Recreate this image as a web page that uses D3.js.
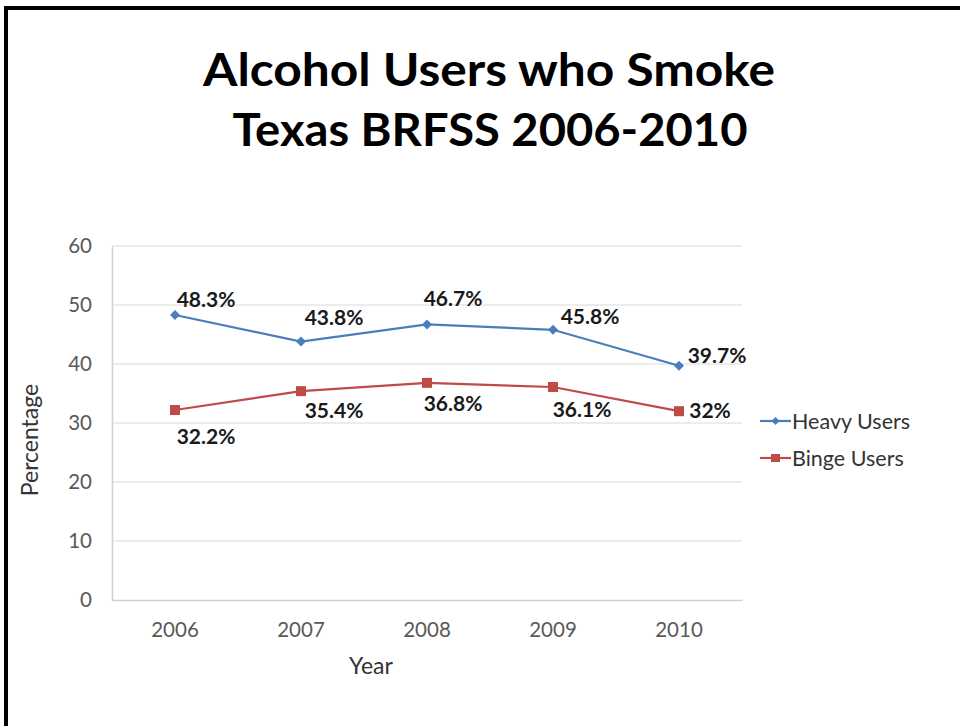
<!DOCTYPE html>
<html>
<head>
<meta charset="utf-8">
<script src="https://cdn.jsdelivr.net/npm/d3@7"></script>
<style>
  html, body { margin: 0; padding: 0; background: #fff; }
  svg { display: block; }
</style>
</head>
<body>
<svg id="chart" width="960" height="726"></svg>
<script>
// Share of alcohol users who smoke, Texas BRFSS
const years = ["2006", "2007", "2008", "2009", "2010"];
const heavyUsers = [48.3, 43.8, 46.7, 45.8, 39.7];
const bingeUsers = [32.2, 35.4, 36.8, 36.1, 32.0];
const heavyLabels = ["48.3%", "43.8%", "46.7%", "45.8%", "39.7%"];
const bingeLabels = ["32.2%", "35.4%", "36.8%", "36.1%", "32%"];
const yTicks = [0, 10, 20, 30, 40, 50, 60];
const seriesNames = ["Heavy Users", "Binge Users"];

// hand-placed label nudges (px, relative to the point)
const heavyLabelShift = [[31, -15], [33, -24], [26, -26], [37, -13], [38, -10]];
const bingeLabelShift = [[31, 27], [33, 20], [26, 21], [29, 23], [31, -1]];

const svg = d3.select("#chart");
const font = "Lato, 'Open Sans', sans-serif";

// frame edges
svg.append("rect").attr("x", 4).attr("y", 6).attr("width", 4).attr("height", 726).attr("fill", "#000");
svg.append("rect").attr("x", 4).attr("y", 6).attr("width", 960).attr("height", 4).attr("fill", "#000");

// title
const title = svg.append("text")
  .attr("text-anchor", "middle")
  .attr("font-family", font)
  .attr("font-weight", 700)
  .attr("font-size", 46)
  .attr("fill", "#000");
title.append("tspan").attr("x", 489).attr("y", 86)
  .attr("textLength", 572).attr("lengthAdjust", "spacingAndGlyphs")
  .text("Alcohol Users who Smoke");
title.append("tspan").attr("x", 490).attr("y", 146)
  .attr("textLength", 515).attr("lengthAdjust", "spacingAndGlyphs")
  .text("Texas BRFSS 2006-2010");

const plot = { left: 112, right: 742, top: 246, bottom: 600 };

const x = d3.scaleBand().domain(years).range([plot.left, plot.right]);
const y = d3.scaleLinear().domain([0, 60]).range([plot.bottom, plot.top]);
const cx = d => x(d) + x.bandwidth() / 2;

// gridlines
svg.append("g").selectAll("line").data(yTicks.filter(t => t > 0)).join("line")
  .attr("x1", plot.left).attr("x2", plot.right)
  .attr("y1", d => y(d)).attr("y2", d => y(d))
  .attr("stroke", "#d9d9d9").attr("stroke-width", 1.2);

// y axis
const yAxis = svg.append("g")
  .attr("transform", `translate(${plot.left},0)`)
  .call(d3.axisLeft(y).tickValues(yTicks).tickSize(0).tickPadding(20));
yAxis.select(".domain").attr("stroke", "#d0d0d0").attr("stroke-width", 1.5);
yAxis.selectAll("text").attr("font-family", font).attr("font-size", 20.5).attr("fill", "#595959");

// x axis
const xAxis = svg.append("g")
  .attr("transform", `translate(0,${plot.bottom})`)
  .call(d3.axisBottom(x).tickSize(0).tickPadding(22));
xAxis.select(".domain").attr("stroke", "#d0d0d0").attr("stroke-width", 1.5);
xAxis.selectAll("text").attr("font-family", font).attr("font-size", 20.5).attr("fill", "#595959");

// axis titles
svg.append("text").attr("x", 371).attr("y", 674).attr("text-anchor", "middle")
  .attr("font-family", font).attr("font-size", 23).attr("fill", "#333")
  .text("Year");
svg.append("text").attr("transform", "translate(38,440) rotate(-90)").attr("text-anchor", "middle")
  .attr("font-family", font).attr("font-size", 23).attr("fill", "#333")
  .text("Percentage");

const line = d3.line().x((d, i) => cx(years[i])).y(d => y(d));
const colors = ["#4a7ebb", "#be4b48"];

function drawSeries(values, color, marker, labels, shifts) {
  const g = svg.append("g");
  g.append("path").datum(values).attr("d", line)
    .attr("fill", "none").attr("stroke", color).attr("stroke-width", 2.2);
  if (marker === "diamond") {
    g.selectAll("path.m").data(values).join("path").attr("class", "m")
      .attr("d", d3.symbol(d3.symbolDiamond2, 64)())
      .attr("transform", (d, i) => `translate(${cx(years[i])},${y(d)})`)
      .attr("fill", color);
  } else {
    g.selectAll("rect.m").data(values).join("rect").attr("class", "m")
      .attr("x", (d, i) => cx(years[i]) - 5).attr("y", d => y(d) - 5)
      .attr("width", 10).attr("height", 10).attr("fill", color);
  }
  g.selectAll("text").data(values).join("text")
    .attr("x", (d, i) => cx(years[i]) + shifts[i][0])
    .attr("y", (d, i) => y(d) + shifts[i][1])
    .attr("dy", "0.35em")
    .attr("text-anchor", "middle")
    .attr("font-family", font).attr("font-weight", 700).attr("font-size", 21)
    .attr("fill", "#1a1a1a")
    .text((d, i) => labels[i]);
}

drawSeries(heavyUsers, colors[0], "diamond", heavyLabels, heavyLabelShift);
drawSeries(bingeUsers, colors[1], "square", bingeLabels, bingeLabelShift);

// legend
const legend = svg.append("g");
seriesNames.forEach((name, i) => {
  const ly = 421 + i * 37;
  legend.append("line").attr("x1", 760).attr("x2", 791).attr("y1", ly).attr("y2", ly)
    .attr("stroke", colors[i]).attr("stroke-width", 2.2);
  if (i === 0) {
    legend.append("path").attr("d", d3.symbol(d3.symbolDiamond2, 40)())
      .attr("transform", `translate(775.5,${ly})`).attr("fill", colors[i]);
  } else {
    legend.append("rect").attr("x", 771).attr("y", ly - 4).attr("width", 9).attr("height", 8)
      .attr("fill", colors[i]);
  }
  legend.append("text").attr("x", 792).attr("y", ly).attr("dy", "0.35em")
    .attr("font-family", font).attr("font-size", 21.5).attr("fill", "#333")
    .text(name);
});
</script>
</body>
</html>
